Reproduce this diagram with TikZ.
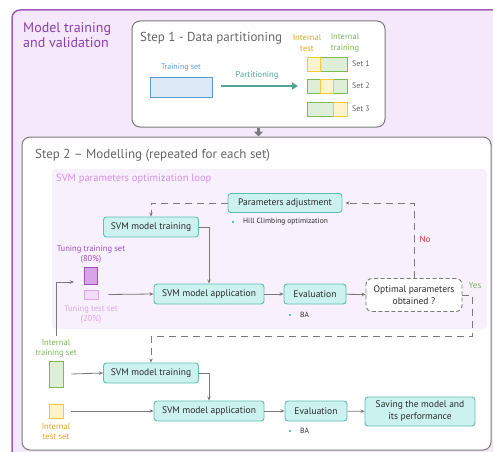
\documentclass[tikz,border=0pt]{standalone}
\usepackage{fontspec}
\setmainfont{PT Sans}
\usetikzlibrary{arrows.meta,positioning,calc,shapes.geometric}

\definecolor{frameviolet}{HTML}{A35BC4}
\definecolor{framefill}{HTML}{F6E8FB}
\definecolor{titleviolet}{HTML}{8A3FB0}
\definecolor{loopfill}{HTML}{F8F0FC}
\definecolor{looptext}{HTML}{D98FE8}
\definecolor{boxgray}{HTML}{7A7A7A}
\definecolor{stepgray}{HTML}{666666}
\definecolor{inkgray}{HTML}{2A2A2A}
\definecolor{procfill}{HTML}{CCF2EF}
\definecolor{procdraw}{HTML}{5FBDB5}
\definecolor{arrowteal}{HTML}{4FA49C}
\definecolor{setblue}{HTML}{5B9BD5}
\definecolor{setbluefill}{HTML}{DDE9F6}
\definecolor{testorange}{HTML}{E3A52A}
\definecolor{testfill}{HTML}{FFF3CC}
\definecolor{testdraw}{HTML}{F6C83A}
\definecolor{traingreen}{HTML}{7DB955}
\definecolor{trainfill}{HTML}{DDEFD6}
\definecolor{tunepurple}{HTML}{9D4FC0}
\definecolor{tunefill}{HTML}{D9A3EA}
\definecolor{tunepink}{HTML}{DDA8EA}
\definecolor{tunepinkfill}{HTML}{F1DDF7}
\definecolor{nored}{HTML}{D0312D}

\begin{document}
\begin{tikzpicture}[x=1pt,y=-1pt,
  every node/.style={align=center},
  proc/.style={draw=procdraw,fill=procfill,rounded corners=3pt,line width=0.9pt,minimum height=20pt,inner sep=2pt,text=inkgray,font=\fontsize{9.5}{11}\selectfont},
  flow/.style={draw=boxgray,line width=0.8pt,-{Stealth[length=4pt,width=3.5pt]}},
  loopline/.style={draw=boxgray,line width=1pt,dash pattern=on 7pt off 5pt},
  small/.style={font=\fontsize{8.5}{10}\selectfont},
  note/.style={font=\fontsize{7.5}{9}\selectfont,anchor=west,inner sep=0pt,text=inkgray},
  bul/.style={fill=procdraw,minimum size=2.4pt,inner sep=0pt}]
\useasboundingbox (0,0) rectangle (493,452);
\clip (0,0) rectangle (493,452);

% outer frame
\draw[frameviolet,fill=framefill,line width=1.5pt,rounded corners=8pt] (12,10) rectangle (520,480);
\node[anchor=north west,inner sep=0pt,align=left,text=titleviolet,font=\fontsize{14}{15.5}\selectfont] (title) at (23,22) {Model training\\and validation};

% step 1
\node[draw=boxgray,fill=white,line width=1pt,rounded corners=8pt,minimum width=253pt,minimum height=106pt] (step1) at (258.5,74) {};
\node[anchor=west,inner sep=0pt,text=stepgray,font=\fontsize{13}{15}\selectfont] (step1t) at (140,38) {Step 1 - Data partitioning};
\node[draw=setblue,fill=setbluefill,line width=0.8pt,minimum width=62pt,minimum height=20pt] (trainset) at (181,87) {};
\node[small,text=setblue,font=\fontsize{8}{10}\selectfont] (trainsetl) at (181,68) {Training set};
\coordinate (partend) at (298,86);
\draw[arrowteal,line width=2.5pt,-{Triangle[length=6pt,width=7pt]}] ($(trainset.east)+(9,-1)$) -- (partend);
\node[small,text=arrowteal] (partl) at (257,75) {Partitioning};
\node[small,text=testorange,font=\fontsize{8.5}{10.5}\selectfont] (intestl) at (307,43) {Internal\\test};
\node[small,text=traingreen,font=\fontsize{8.5}{10.5}\selectfont] (intrainl) at (345,43) {Internal\\training};
% sets
\filldraw[fill=trainfill,draw=traingreen,line width=0.8pt] (320,57) rectangle (347,71);
\filldraw[fill=testfill,draw=testdraw,line width=0.8pt] (307,57) rectangle (320,71);
\filldraw[fill=trainfill,draw=traingreen,line width=0.8pt] (307,79) rectangle (347,93);
\filldraw[fill=testfill,draw=testdraw,line width=0.8pt] (320,79) rectangle (333,93);
\filldraw[fill=trainfill,draw=traingreen,line width=0.8pt] (307,102) rectangle (347,116);
\filldraw[fill=testfill,draw=testdraw,line width=0.8pt] (333,102) rectangle (347,116);
\node[note,text=stepgray,font=\fontsize{8}{10}\selectfont] (set1) at (352,64) {Set 1};
\node[note,text=stepgray,font=\fontsize{8}{10}\selectfont] (set2) at (352,86) {Set 2};
\node[note,text=stepgray,font=\fontsize{8}{10}\selectfont] (set3) at (352,109) {Set 3};

% step 2
\node[draw=boxgray,fill=white,line width=1pt,rounded corners=8pt,minimum width=469pt,minimum height=313pt] (step2) at (256.5,293.5) {};
\draw[boxgray,line width=3pt,-{Triangle[length=5pt,width=9pt]}] (step1.south) -- (step1.south |- step2.north);
\node[anchor=west,inner sep=0pt,text=stepgray,font=\fontsize{13}{15}\selectfont] (step2t) at (35,155) {Step 2 -- Modelling (repeated for each set)};

% optimization loop
\fill[loopfill,rounded corners=4pt] (52,169) rectangle (487,329);
\node[anchor=west,inner sep=0pt,text=looptext,font=\fontsize{10.5}{12}\selectfont] (loopt) at (56,179) {SVM parameters optimization loop};

\node[proc,minimum width=114pt,minimum height=19pt] (paramadj) at (285,203) {Parameters adjustment};
\node[bul] (b1) at (233,222) {};
\node[note] (hill) at (243,222) {Hill Climbing optimization};
\node[proc,minimum width=95pt] (train1) at (151,227) {SVM model training};
\node[proc,minimum width=110pt] (app1) at (209,294) {SVM model application};
\node[proc,minimum width=62pt] (eval1) at (315,294) {Evaluation};
\node[bul] (b2) at (290,315) {};
\node[note] (ba1) at (300,315) {BA};
\node[draw=boxgray,dash pattern=on 4pt off 2.5pt,line width=0.9pt,fill=white,rounded corners=6pt,minimum width=96pt,minimum height=33pt,text=inkgray,font=\fontsize{9.5}{12}\selectfont] (optim) at (414,295) {Optimal parameters\\obtained ?};
\node[small,text=nored,font=\fontsize{9}{11}\selectfont] (nol) at (425,239) {No};
\node[small,text=traingreen,font=\fontsize{9}{11}\selectfont] (yesl) at (475,285) {Yes};

\node[draw=tunepurple,fill=tunefill,line width=0.8pt,minimum width=13pt,minimum height=17pt,inner sep=0pt] (tunetrain) at (90.5,276) {};
\node[draw=tunepink,fill=tunepinkfill,line width=0.6pt,minimum width=14pt,minimum height=9pt,inner sep=0pt] (tunetest) at (91,294.5) {};
\node[small,text=tunepurple] (tunetrainl) at (91,254) {Tuning training set\\(80\%)};
\node[small,text=tunepink] (tunetestl) at (91,314) {Tuning test set\\(20\%)};

% final model
\node[draw=traingreen,fill=trainfill,line width=0.8pt,minimum width=14pt,minimum height=26pt,inner sep=0pt] (inttrain) at (56,374) {};
\node[small,text=traingreen] (inttrainl) at (56,348) {Internal\\training set};
\node[draw=testdraw,fill=testfill,line width=0.8pt,minimum width=14pt,minimum height=14pt,inner sep=0pt] (inttest) at (56,411) {};
\node[small,text=testorange] (inttestl) at (56,432) {Internal\\test set};
\node[proc,minimum width=95pt] (train2) at (151,373) {SVM model training};
\node[proc,minimum width=110pt] (app2) at (209,411) {SVM model application};
\node[proc,minimum width=62pt] (eval2) at (316,411) {Evaluation};
\node[bul] (b3) at (290,431) {};
\node[note] (ba2) at (300,431) {BA};
\node[proc,minimum width=110pt,minimum height=29pt,font=\fontsize{9.5}{12}\selectfont] (saving) at (420,411.5) {Saving the model and\\its performance};

% connectors
\coordinate (tunein) at (74,282);
\draw[flow] (inttrainl.north) |- (tunein);
\draw[flow] ($(tunetest.east)+(10,0)$) -- (app1.west);
\draw[flow] (train1.east) -| (app1.north);
\draw[flow] (app1) -- (eval1);
\draw[flow] (eval1) -- (optim);
\draw[loopline,-{Stealth[length=4pt,width=3.5pt]}] (optim.north) |- ($(paramadj.east)+(3,0)$);
\draw[loopline,-{Stealth[length=4pt,width=3.5pt]}] (paramadj.west) -| (train1.north);
\draw[loopline,-{Stealth[length=4pt,width=3.5pt]}] (optim.east) -- ++(10,0) |- ($(train2.north)+(0,-26)$) -- (train2.north);
\draw[flow] ($(inttrain.east)+(8,0)$) -- (train2.west);
\draw[flow] ($(inttest.east)+(8,0)$) -- (app2.west);
\draw[flow] (train2.east) -| (app2.north);
\draw[flow] (app2) -- (eval2);
\draw[flow] (eval2) -- (saving);
\end{tikzpicture}
\end{document}
